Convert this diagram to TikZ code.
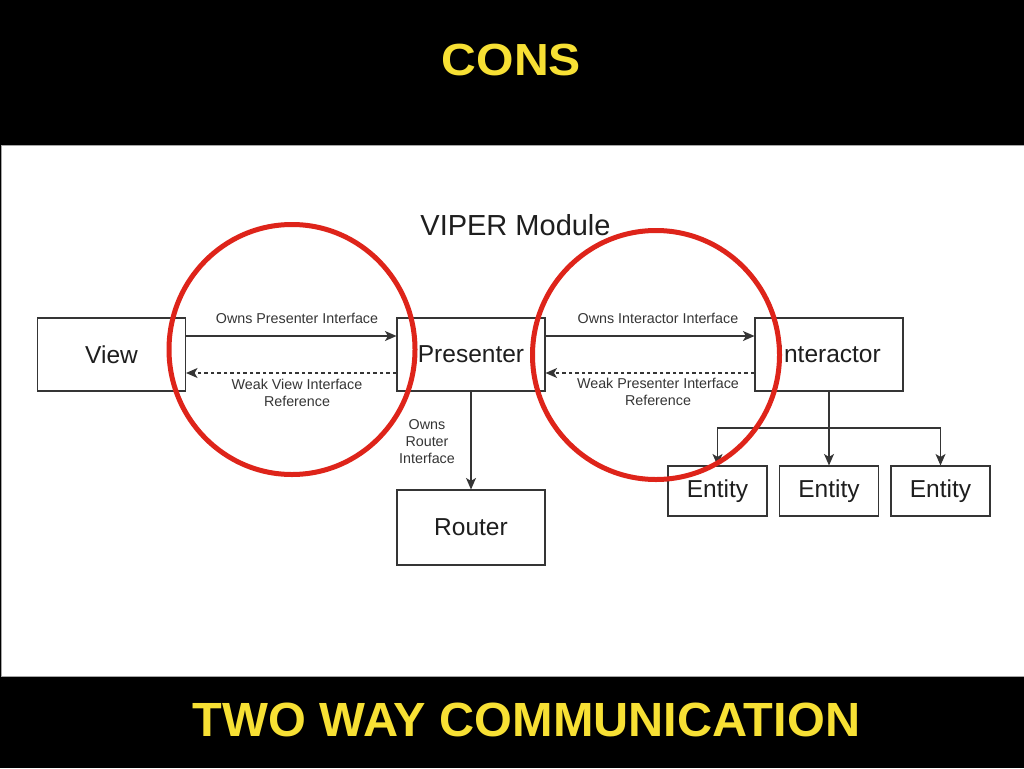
\documentclass[tikz,border=0pt]{standalone}
\usepackage{fontspec}
\setmainfont{Liberation Sans}
\usetikzlibrary{arrows.meta}
\definecolor{ttlyellow}{RGB}{247,224,52}
\definecolor{mark}{RGB}{222,36,26}
\definecolor{ink}{RGB}{30,30,30}
\tikzset{
  box/.style={draw=ink!90, line width=1.1pt, fill=white, text=ink,
    minimum width=148pt, minimum height=73pt, inner sep=0pt,
    font=\fontsize{24.5}{29}\selectfont},
  entbox/.style={box, minimum width=99pt, minimum height=50pt},
  lbl/.style={text=ink!90, align=center, inner sep=0pt,
    font=\fontsize{14.3}{17}\selectfont},
  conn/.style={draw=ink!90, line width=1.1pt, -{Stealth[length=11.5pt,width=10pt,inset=3pt]}},
  weak/.style={conn, dash pattern=on 3.5pt off 3pt},
  ring/.style={draw=mark, line width=5pt},
  banner/.style={text=ttlyellow, font=\bfseries\fontsize{45}{50}\selectfont, inner sep=0pt}
}
\begin{document}
\begin{tikzpicture}[x=1pt,y=-1pt]
\useasboundingbox (0,0) rectangle (1024,768);
\fill[black] (0,0) rectangle (1024,768);
\fill[white, draw=gray!70, line width=1pt] (1,145) rectangle (1024,676);

\node[banner] (cons) at (511.5,60) {\scalebox{1.07}[1]{CONS}};
\node[banner, font=\bfseries\fontsize{48}{52}\selectfont] (twoway) at (526.5,720) {\scalebox{1.013}[1]{TWO WAY COMMUNICATION}};

\node[text=ink, inner sep=0pt, font=\fontsize{29}{32}\selectfont] (title) at (515.5,225) {VIPER Module};

\node[box] (view) at (111.5,354.5) {View};
\node[box] (pres) at (471,354.5) {Presenter};
\node[box] (inter) at (829,354.5) {Interactor};
\node[box, minimum height=75pt] (router) at (471,527.5) {Router};
\node[entbox] (e1) at (717.5,491) {Entity};
\node[entbox] (e2) at (829,491) {Entity};
\node[entbox] (e3) at (940.5,491) {Entity};

% View <-> Presenter
\draw[conn] ([yshift=18.5pt]view.east) -- ([yshift=18.5pt]pres.west);
\draw[weak] ([yshift=-18.5pt]pres.west) -- ([yshift=-18.5pt]view.east);
\node[lbl] (l1) at (297,318) {Owns Presenter Interface};
\node[lbl] (l2) at (297,392.5) {Weak View Interface\\Reference};

% Presenter <-> Interactor
\draw[conn] ([yshift=18.5pt]pres.east) -- ([yshift=18.5pt]inter.west);
\draw[weak] ([yshift=-18.5pt]inter.west) -- ([yshift=-18.5pt]pres.east);
\node[lbl] (l3) at (658,318) {Owns Interactor Interface};
\node[lbl] (l4) at (658,392) {Weak Presenter Interface\\Reference};

% Presenter -> Router
\draw[conn] (pres.south) -- (router.north);
\node[lbl] (l5) at (427,442) {Owns\\Router\\Interface};

% Interactor -> Entities
\coordinate (br) at (829,428);
\draw[conn] (inter.south) -- (e2.north);
\draw[conn] (inter.south) -- (br) -| (e1.north);
\draw[conn] (inter.south) -- (br) -| (e3.north);

% red marks
\draw[ring] (292,349.5) ellipse [x radius=123pt, y radius=125pt];
\draw[ring] (656,355) ellipse [x radius=123.5pt, y radius=124.5pt];
\end{tikzpicture}
\end{document}
